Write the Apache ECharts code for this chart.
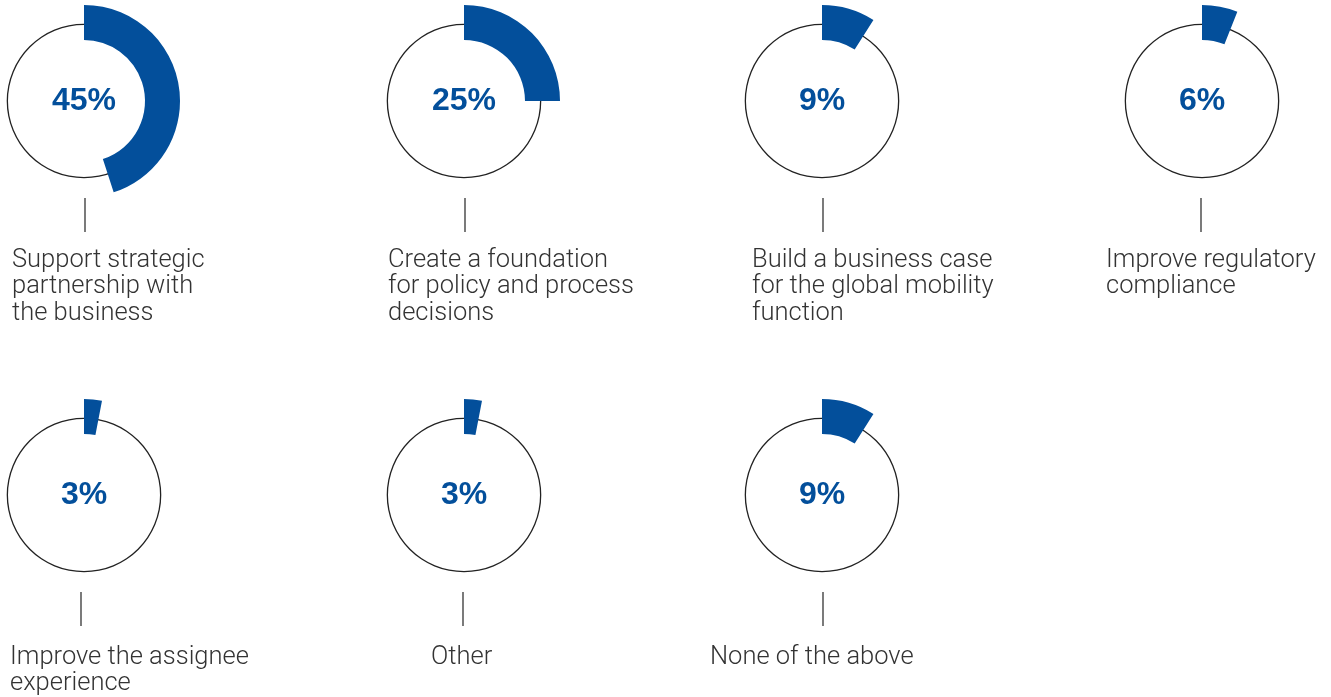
<!DOCTYPE html>
<html>
<head>
<meta charset="utf-8">
<script src="https://cdn.jsdelivr.net/npm/echarts@6/dist/echarts.min.js"></script>
<style>
	html, body { margin: 0; padding: 0; background: #fff; }
	#chart { width: 1331px; height: 697px; }
</style>
</head>
<body>
<div id="chart"></div>
<script>
// data
const categories = [
	"Support strategic\npartnership with\nthe business",
	"Create a foundation\nfor policy and process\ndecisions",
	"Build a business case\nfor the global mobility\nfunction",
	"Improve regulatory\ncompliance",
	"Improve the assignee\nexperience",
	"Other",
	"None of the above"
];
const values = [45, 25, 9, 6, 3, 3, 9];

// layout: ring centres and where each caption starts
const centersX = [84, 464, 822, 1202, 84, 464, 822];
const centersY = [101, 101, 101, 101, 495, 495, 495];
const tickX = [85, 465, 823, 1201, 81, 463, 823];
const labelX = [12, 388, 752, 1106, 10, 431, 710];
const labelY = [247, 247, 247, 247, 644, 644, 644];

const blue = "#034f9b";
const textColor = "#333333";

let myChart = echarts.init(document.getElementById("chart"));
let series = [];
let graphic = [];

values.forEach((v, i) => {
	let center = [centersX[i], centersY[i]];
	// thin outline circle
	series.push({
		type: "pie",
		silent: true,
		center: center,
		radius: [76, 77.3],
		label: { show: false },
		itemStyle: { color: "#222" },
		data: [{ value: 1 }]
	});
	// thick blue arc from 12 o'clock clockwise
	series.push({
		type: "pie",
		silent: true,
		center: center,
		radius: [61, 96],
		startAngle: 90,
		clockwise: true,
		labelLine: { show: false },
		data: [
			{
				value: v,
				itemStyle: { color: blue },
				label: {
					show: true,
					position: "center",
					formatter: "{c}%",
					color: blue,
					fontSize: 32,
					fontWeight: "bold",
					fontFamily: "Liberation Sans"
				}
			},
			{
				value: 100 - v,
				itemStyle: { color: "rgba(0,0,0,0)" },
				label: { show: false }
			}
		]
	});
	// short vertical tick under the ring
	let tickTop = centersY[i] + 97;
	graphic.push({
		type: "line",
		silent: true,
		shape: { x1: tickX[i], y1: tickTop, x2: tickX[i], y2: tickTop + 34 },
		style: { stroke: "#222", lineWidth: 1.2 }
	});
	graphic.push({
		type: "text",
		silent: true,
		left: labelX[i],
		top: labelY[i],
		style: {
			text: categories[i],
			fill: textColor,
			font: "300 25.5px Roboto",
			lineHeight: 26.5
		}
	});
});

let option = {
	animation: false,
	backgroundColor: "#fff",
	series: series,
	graphic: graphic
};
myChart.setOption(option);
</script>
</body>
</html>
